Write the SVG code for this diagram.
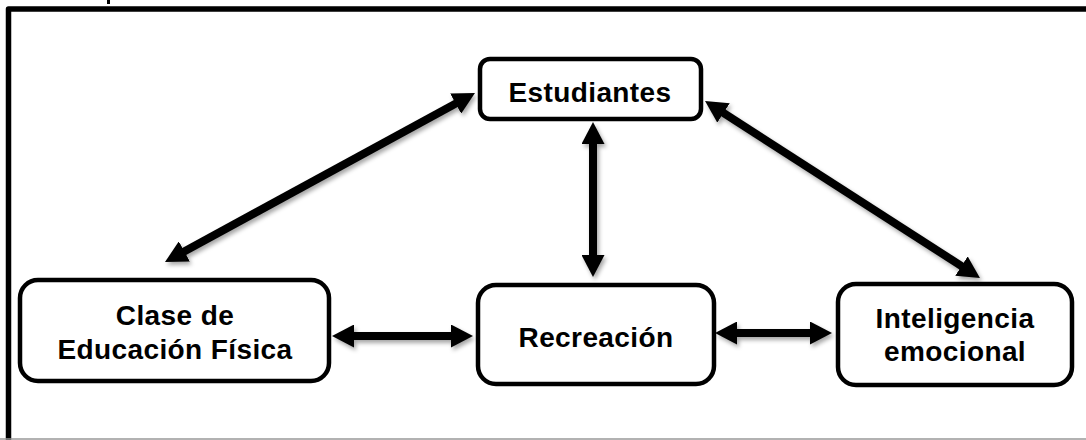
<svg xmlns="http://www.w3.org/2000/svg" width="1086" height="440" viewBox="0 0 1086 440">
  <style>
    .box { fill: #fff; stroke: #000; stroke-width: 4.5; }
    .lbl { font-family: "Liberation Sans", Arial, sans-serif; font-weight: bold; font-size: 28px; letter-spacing: 0.4px; fill: #000; text-anchor: middle; }
    .conn { stroke: #000; stroke-width: 8; fill: none; marker-start: url(#head); marker-end: url(#head); }
  </style>
  <defs>
    <marker id="head" markerUnits="userSpaceOnUse" markerWidth="22" markerHeight="23" viewBox="0 0 22 23" refX="8" refY="11.5" orient="auto-start-reverse">
      <path d="M0,0 L22,11.5 L0,23 z" fill="#000"/>
    </marker>
    <filter id="sh" x="-10%" y="-10%" width="120%" height="130%">
      <feDropShadow dx="2" dy="3" stdDeviation="2" flood-color="#000" flood-opacity="0.35"/>
    </filter>
  </defs>
  <rect width="1086" height="440" fill="#fff"/>
  <rect x="107" y="0" width="3" height="4" fill="#000"/>
  <path d="M8.5,440 V9 H1090" fill="none" stroke="#000" stroke-width="5.5" stroke-linejoin="round"/>
  <line x1="0" y1="439" x2="1086" y2="439" stroke="#999" stroke-width="1.5"/>

  <g id="connectors" filter="url(#sh)">
    <line class="conn" x1="462.7" y1="99.7" x2="177.3" y2="255.3"/>
    <line class="conn" x1="593" y1="136" x2="593" y2="263"/>
    <line class="conn" x1="716.8" y1="108.6" x2="968.2" y2="270.4"/>
    <line class="conn" x1="346" y1="336" x2="459" y2="336"/>
    <line class="conn" x1="729" y1="333" x2="818" y2="333"/>
  </g>

  <g id="estudiantes">
    <rect class="box" x="480" y="59" width="221" height="60" rx="10"/>
    <text class="lbl" x="590" y="102">Estudiantes</text>
  </g>
  <g id="clase">
    <rect class="box" x="20" y="280" width="309" height="101" rx="18"/>
    <text class="lbl" x="175" y="325">Clase de</text>
    <text class="lbl" x="175" y="359">Educación Física</text>
  </g>
  <g id="recreacion">
    <rect class="box" x="478" y="285" width="236" height="99" rx="18"/>
    <text class="lbl" x="596" y="347">Recreación</text>
  </g>
  <g id="inteligencia">
    <rect class="box" x="838" y="284" width="234" height="101" rx="18"/>
    <text class="lbl" x="955" y="328">Inteligencia</text>
    <text class="lbl" x="955" y="361">emocional</text>
  </g>
</svg>
